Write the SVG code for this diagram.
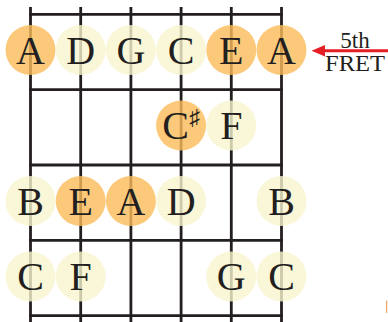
<svg xmlns="http://www.w3.org/2000/svg" width="388" height="322" viewBox="0 0 388 322">
<style>
.grid line{stroke:#231F20;stroke-width:2.8}
.o{fill:#FBBB59;fill-opacity:0.8}
.y{fill:#F7F5CE;fill-opacity:0.8}
.t{font-family:"Liberation Serif","Times New Roman",serif;font-size:40px;fill:#231F20;text-anchor:middle}
.lbl{font-family:"Liberation Serif","Times New Roman",serif;font-size:23px;fill:#231F20;text-anchor:middle}
</style>
<rect width="388" height="322" fill="#fff"/>
<g id="grid" class="grid">
<line x1="30.5" y1="7" x2="30.5" y2="322"/>
<line x1="80.7" y1="7" x2="80.7" y2="322"/>
<line x1="130.9" y1="7" x2="130.9" y2="322"/>
<line x1="181.1" y1="7" x2="181.1" y2="322"/>
<line x1="231.3" y1="7" x2="231.3" y2="322"/>
<line x1="281.5" y1="7" x2="281.5" y2="322"/>
<line x1="29.1" y1="14.3" x2="282.9" y2="14.3"/>
<line x1="29.1" y1="89.6" x2="282.9" y2="89.6"/>
<line x1="29.1" y1="165" x2="282.9" y2="165"/>
<line x1="29.1" y1="240.4" x2="282.9" y2="240.4"/>
<line x1="29.1" y1="315.7" x2="282.9" y2="315.7"/>
</g>
<g id="n1"><circle class="o" cx="30.5" cy="50" r="25"/><text class="t" x="30.5" y="63.5">A</text></g>
<g id="n2"><circle class="y" cx="80.7" cy="50" r="25"/><text class="t" x="80.7" y="63.5">D</text></g>
<g id="n3"><circle class="y" cx="130.9" cy="50" r="25"/><text class="t" x="130.9" y="63.5">G</text></g>
<g id="n4"><circle class="y" cx="181.1" cy="50" r="25"/><text class="t" x="181.1" y="63.5">C</text></g>
<g id="n5"><circle class="o" cx="231.3" cy="50" r="25"/><text class="t" x="231.3" y="63.5">E</text></g>
<g id="n6"><circle class="o" cx="281.5" cy="50" r="25"/><text class="t" x="281.5" y="63.5">A</text></g>
<g id="n7"><circle class="o" cx="181.1" cy="125.5" r="25"/><text class="t" x="181.1" y="139">C<tspan font-size="22" dy="-14">♯</tspan></text></g>
<g id="n8"><circle class="y" cx="231.3" cy="125.5" r="25"/><text class="t" x="231.3" y="139">F</text></g>
<g id="n9"><circle class="y" cx="30.5" cy="201" r="25"/><text class="t" x="30.5" y="214.5">B</text></g>
<g id="n10"><circle class="o" cx="80.7" cy="201" r="25"/><text class="t" x="80.7" y="214.5">E</text></g>
<g id="n11"><circle class="o" cx="130.9" cy="201" r="25"/><text class="t" x="130.9" y="214.5">A</text></g>
<g id="n12"><circle class="y" cx="181.1" cy="201" r="25"/><text class="t" x="181.1" y="214.5">D</text></g>
<g id="n13"><circle class="y" cx="281.5" cy="201" r="25"/><text class="t" x="281.5" y="214.5">B</text></g>
<g id="n14"><circle class="y" cx="30.5" cy="276.5" r="25"/><text class="t" x="30.5" y="290">C</text></g>
<g id="n15"><circle class="y" cx="80.7" cy="276.5" r="25"/><text class="t" x="80.7" y="290">F</text></g>
<g id="n16"><circle class="y" cx="231.3" cy="276.5" r="25"/><text class="t" x="231.3" y="290">G</text></g>
<g id="n17"><circle class="y" cx="281.5" cy="276.5" r="25"/><text class="t" x="281.5" y="290">C</text></g>
<g id="label">
<line x1="322" y1="50.7" x2="388" y2="50.7" stroke="#E31E24" stroke-width="3"/>
<polygon points="311.5,50.7 325,45 325,56.4" fill="#E31E24"/>
<text class="lbl" x="355" y="48">5th</text>
<text class="lbl" x="355" y="70.5" textLength="60" lengthAdjust="spacingAndGlyphs">FRET</text>
</g>
<rect x="386" y="300.5" width="1.2" height="12.5" fill="#F0A860"/>
</svg>
